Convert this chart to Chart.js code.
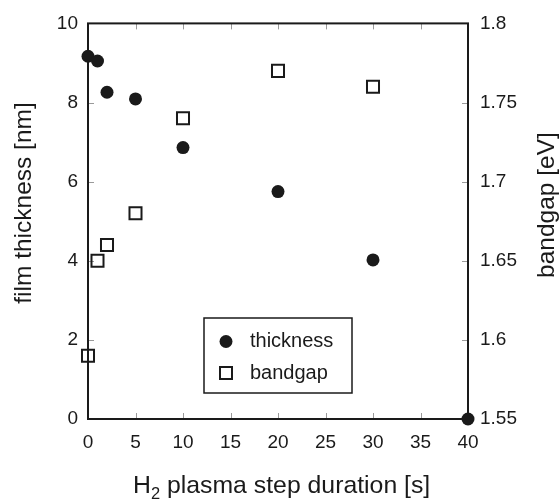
<!DOCTYPE html>
<html lang="en">
<head>
    <meta charset="UTF-8">
    <title>Film thickness and bandgap vs H2 plasma step</title>
    <script src="https://cdn.jsdelivr.net/npm/chart.js"></script>
    <style>
        body {
            margin: 0;
            background: #fff;
        }
        #chartBox {
            width: 560px;
            height: 501px;
        }
    </style>
</head>
<body>

<div id="chartBox">
    <canvas id="plasmaChart" width="560" height="501"></canvas>
</div>

<script>
// data
const durations = [0, 1, 2, 5, 10, 20, 30, 40];
const thickness = [9.17, 9.05, 8.26, 8.09, 6.86, 5.75, 4.02, 0];
const bandgapDurations = [0, 1, 2, 5, 10, 20, 30];
const bandgap = [1.59, 1.65, 1.66, 1.68, 1.74, 1.77, 1.76];

// tick values
const xTicks = [0, 5, 10, 15, 20, 25, 30, 35, 40];
const thicknessTicks = [0, 2, 4, 6, 8, 10];
const bandgapTicks = [1.55, 1.6, 1.65, 1.7, 1.75, 1.8];

const FONT = "'Liberation Sans', Arial, sans-serif";
const INK = '#1a1a1a';

function toPoints(xs, ys) {
    return xs.map((x, i) => ({ x: x, y: ys[i] }));
}

// frame, inward ticks, titles and the boxed legend
const framePlugin = {
    id: 'frame',
    beforeDatasetsDraw(chart) {
        const { ctx, chartArea: a, scales } = chart;
        ctx.save();
        // inward tick marks
        ctx.strokeStyle = '#9a9a9a';
        ctx.lineWidth = 1;
        ctx.beginPath();
        scales.x.ticks.forEach(t => {
            const px = Math.round(scales.x.getPixelForValue(t.value)) + 0.5;
            ctx.moveTo(px, a.bottom); ctx.lineTo(px, a.bottom - 6);
            ctx.moveTo(px, a.top); ctx.lineTo(px, a.top + 6);
        });
        scales.y.ticks.forEach(t => {
            const py = Math.round(scales.y.getPixelForValue(t.value)) + 0.5;
            ctx.moveTo(a.left, py); ctx.lineTo(a.left + 6, py);
        });
        scales.y2.ticks.forEach(t => {
            const py = Math.round(scales.y2.getPixelForValue(t.value)) + 0.5;
            ctx.moveTo(a.right, py); ctx.lineTo(a.right - 6, py);
        });
        ctx.stroke();
        // box
        ctx.strokeStyle = INK;
        ctx.lineWidth = 2;
        ctx.strokeRect(a.left, a.top, a.right - a.left, a.bottom - a.top);
        ctx.restore();
    },
    afterDraw(chart) {
        const { ctx } = chart;
        ctx.save();
        ctx.fillStyle = INK;

        // left title
        ctx.font = '24.5px ' + FONT;
        ctx.textAlign = 'center';
        ctx.textBaseline = 'middle';
        ctx.save();
        ctx.translate(24, 203);
        ctx.rotate(-Math.PI / 2);
        ctx.fillText('film thickness [nm]', 0, 0);
        ctx.restore();

        // right title (reads bottom to top)
        ctx.save();
        ctx.translate(547, 205);
        ctx.rotate(-Math.PI / 2);
        ctx.fillText('bandgap [eV]', 0, 0);
        ctx.restore();

        // x title with subscript
        ctx.textAlign = 'left';
        ctx.textBaseline = 'alphabetic';
        let x = 133;
        const base = 493;
        ctx.font = '24.8px ' + FONT;
        ctx.fillText('H', x, base);
        x += ctx.measureText('H').width;
        ctx.font = '16.5px ' + FONT;
        ctx.fillText('2', x, base + 6);
        x += ctx.measureText('2').width;
        ctx.font = '24.8px ' + FONT;
        ctx.fillText(' plasma step duration [s]', x, base);

        // legend
        const ds = chart.data.datasets;
        ctx.strokeStyle = INK;
        ctx.lineWidth = 1.5;
        ctx.strokeRect(204, 318, 148, 75);
        ctx.beginPath();
        ctx.arc(226, 341.5, 6.5, 0, Math.PI * 2);
        ctx.fill();
        ctx.lineWidth = 2;
        ctx.strokeRect(220, 367, 12, 12);
        ctx.font = '20px ' + FONT;
        ctx.textBaseline = 'middle';
        ctx.fillText(ds[0].label, 250, 341.5);
        ctx.fillText(ds[1].label, 250, 373);
        ctx.restore();
    }
};

new Chart(document.getElementById('plasmaChart'), {
    type: 'scatter',
    data: {
        datasets: [
            {
                label: 'thickness',
                data: toPoints(durations, thickness),
                yAxisID: 'y',
                pointStyle: 'circle',
                pointRadius: 6.5,
                pointBackgroundColor: INK,
                pointBorderColor: INK,
                pointBorderWidth: 0,
                clip: false
            },
            {
                label: 'bandgap',
                data: toPoints(bandgapDurations, bandgap),
                yAxisID: 'y2',
                pointStyle: 'rect',
                pointRadius: 8.5,
                pointBackgroundColor: 'rgba(0,0,0,0)',
                pointBorderColor: INK,
                pointBorderWidth: 2,
                clip: false
            }
        ]
    },
    options: {
        responsive: false,
        animation: false,
        events: [],
        layout: { padding: { top: 18, left: 0, right: 0, bottom: 0 } },
        plugins: {
            legend: { display: false },
            tooltip: { enabled: false }
        },
        scales: {
            x: {
                type: 'linear',
                position: 'bottom',
                min: 0,
                max: 40,
                afterBuildTicks: s => { s.ticks = xTicks.map(v => ({ value: v })); },
                afterFit: s => { s.height = 82; },
                ticks: {
                    color: INK,
                    font: { family: FONT, size: 19 },
                    padding: 12,
                    maxRotation: 0
                },
                grid: { display: false, drawTicks: false },
                border: { display: false }
            },
            y: {
                type: 'linear',
                position: 'left',
                min: 0,
                max: 10,
                afterBuildTicks: s => { s.ticks = thicknessTicks.map(v => ({ value: v })); },
                afterFit: s => { s.width = 88; },
                ticks: {
                    color: INK,
                    font: { family: FONT, size: 19 },
                    padding: 10
                },
                grid: { display: false, drawTicks: false },
                border: { display: false }
            },
            y2: {
                type: 'linear',
                position: 'right',
                min: 1.55,
                max: 1.8,
                afterBuildTicks: s => { s.ticks = bandgapTicks.map(v => ({ value: v })); },
                afterFit: s => { s.width = 92; },
                ticks: {
                    color: INK,
                    font: { family: FONT, size: 19 },
                    padding: 12,
                    callback: v => String(Math.round(v * 100) / 100)
                },
                grid: { display: false, drawTicks: false },
                border: { display: false }
            }
        }
    },
    plugins: [framePlugin]
});
</script>
</body>
</html>
